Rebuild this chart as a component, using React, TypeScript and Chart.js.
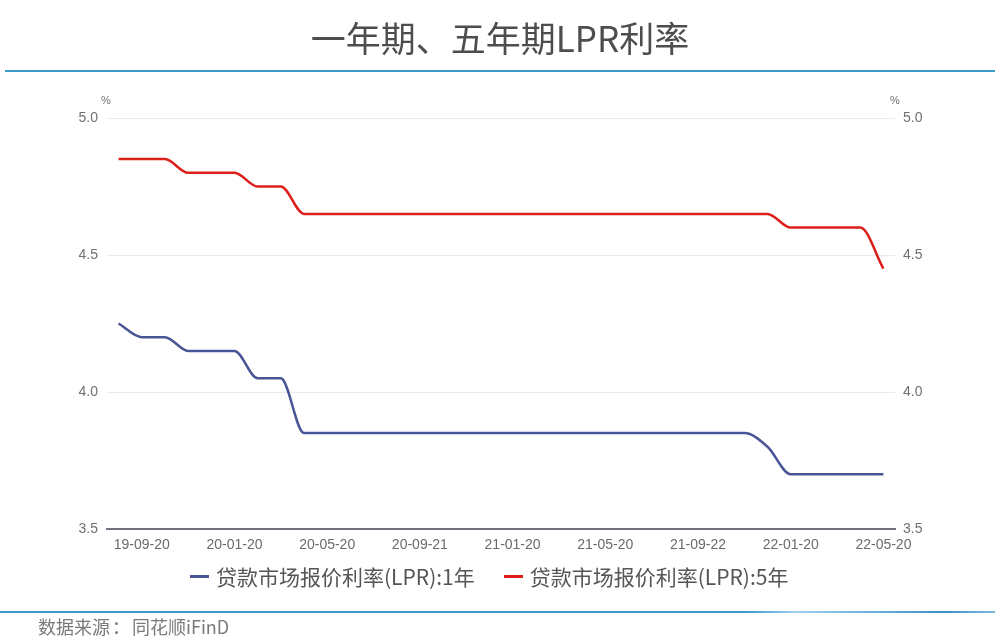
import React, { useEffect, useRef } from "react";
import { Chart, registerables } from "chart.js";

Chart.register(...registerables);

const dates: string[] = [
  "19-08-20", "19-09-20", "19-10-21", "19-11-20", "19-12-20",
  "20-01-20", "20-02-20", "20-03-20", "20-04-20", "20-05-20", "20-06-22", "20-07-20",
  "20-08-20", "20-09-21", "20-10-20", "20-11-20", "20-12-21",
  "21-01-20", "21-02-20", "21-03-22", "21-04-20", "21-05-20", "21-06-21", "21-07-20",
  "21-08-20", "21-09-22", "21-10-20", "21-11-22", "21-12-20",
  "22-01-20", "22-02-21", "22-03-21", "22-04-20", "22-05-20",
];

const lpr1y: number[] = [
  4.25, 4.2, 4.2, 4.15, 4.15,
  4.15, 4.05, 4.05, 3.85, 3.85, 3.85, 3.85,
  3.85, 3.85, 3.85, 3.85, 3.85,
  3.85, 3.85, 3.85, 3.85, 3.85, 3.85, 3.85,
  3.85, 3.85, 3.85, 3.85, 3.8,
  3.7, 3.7, 3.7, 3.7, 3.7,
];

const lpr5y: number[] = [
  4.85, 4.85, 4.85, 4.8, 4.8,
  4.8, 4.75, 4.75, 4.65, 4.65, 4.65, 4.65,
  4.65, 4.65, 4.65, 4.65, 4.65,
  4.65, 4.65, 4.65, 4.65, 4.65, 4.65, 4.65,
  4.65, 4.65, 4.65, 4.65, 4.65,
  4.6, 4.6, 4.6, 4.6, 4.45,
];

const series1Name = "贷款市场报价利率(LPR):1年";
const series5Name = "贷款市场报价利率(LPR):5年";
const titleText = "一年期、五年期LPR利率";
const sourceLead = "数据来源";
const sourceColon = "：";
const sourceRest = "同花顺iFinD";

const yMin = 3.5;
const yMax = 5.0;
const yStep = 0.5;

const BLUE = "#4a5596";
const RED = "#dc1f1a";

export default function App() {
  const canvasRef = useRef<HTMLCanvasElement | null>(null);

  useEffect(() => {
    const canvas = canvasRef.current;
    if (!canvas) return;
    const tickFont = { family: "'Liberation Sans', Arial, sans-serif", size: 14 };
    const chart = new Chart(canvas, {
      type: "line",
      data: {
        labels: dates,
        datasets: [
          {
            label: series1Name,
            data: lpr1y,
            borderColor: BLUE,
            backgroundColor: BLUE,
            borderWidth: 2.5,
            pointRadius: 0,
            cubicInterpolationMode: "monotone",
            yAxisID: "y",
          },
          {
            label: series5Name,
            data: lpr5y,
            borderColor: RED,
            backgroundColor: RED,
            borderWidth: 2.5,
            pointRadius: 0,
            cubicInterpolationMode: "monotone",
            yAxisID: "y1",
          },
        ],
      },
      options: {
        responsive: false,
        animation: false,
        devicePixelRatio: 1,
        layout: { padding: { top: 118, left: 0, right: 0, bottom: 0 } },
        plugins: {
          legend: { display: false },
          tooltip: { enabled: false },
          title: { display: false },
        },
        scales: {
          x: {
            type: "category",
            offset: true,
            grid: { display: false, drawTicks: false },
            border: { display: true, color: "#72727e", width: 2 },
            ticks: {
              autoSkip: false,
              maxRotation: 0,
              padding: 8,
              color: "#6a6a6a",
              font: tickFont,
              callback: (_v: any, i: number) => (i % 4 === 1 ? dates[i] : ""),
            },
            afterFit: (s: any) => {
              s.height = 112;
            },
          },
          y: {
            position: "left",
            min: yMin,
            max: yMax,
            grid: { color: "#ebebeb", lineWidth: 1, drawTicks: false },
            border: { display: false },
            ticks: {
              stepSize: yStep,
              padding: 9,
              color: "#707070",
              font: tickFont,
              callback: (v: any) => Number(v).toFixed(1),
            },
            afterFit: (s: any) => {
              s.width = 107;
            },
          },
          y1: {
            position: "right",
            min: yMin,
            max: yMax,
            grid: { display: false, drawTicks: false },
            border: { display: false },
            ticks: {
              stepSize: yStep,
              padding: 8,
              color: "#707070",
              font: tickFont,
              callback: (v: any) => Number(v).toFixed(1),
            },
            afterFit: (s: any) => {
              s.width = 105;
            },
          },
        },
      },
    });
    return () => chart.destroy();
  }, []);

  const cjk = "'Noto Sans CJK SC', 'Noto Sans', sans-serif";

  return (
    <div
      style={{
        position: "absolute",
        left: 0,
        top: 0,
        width: 1000,
        height: 641,
        background: "#ffffff",
        overflow: "hidden",
      }}
    >
      <canvas
        ref={canvasRef}
        width={1000}
        height={641}
        style={{ position: "absolute", left: 0, top: 0, width: 1000, height: 641 }}
      />
      <div
        style={{
          position: "absolute",
          left: 0,
          top: 11,
          width: 1000,
          textAlign: "center",
          fontFamily: cjk,
          fontSize: 35,
          lineHeight: "52px",
          color: "#4d4d4d",
        }}
      >
        {titleText}
      </div>
      <div
        style={{
          position: "absolute",
          left: 5,
          top: 70,
          width: 990,
          height: 2,
          background: "#3d9acd",
        }}
      />
      <div
        style={{
          position: "absolute",
          left: 100,
          top: 94,
          width: 12,
          textAlign: "center",
          fontFamily: "'Liberation Sans', Arial, sans-serif",
          fontSize: 11,
          color: "#707070",
        }}
      >
        %
      </div>
      <div
        style={{
          position: "absolute",
          left: 889,
          top: 94,
          width: 12,
          textAlign: "center",
          fontFamily: "'Liberation Sans', Arial, sans-serif",
          fontSize: 11,
          color: "#707070",
        }}
      >
        %
      </div>
      <div
        style={{
          position: "absolute",
          left: 190,
          top: 562,
          height: 28,
          display: "flex",
          alignItems: "center",
          fontFamily: cjk,
          fontSize: 21,
          color: "#555555",
          whiteSpace: "nowrap",
        }}
      >
        <span style={{ display: "inline-block", width: 19, height: 3, background: BLUE, marginRight: 7 }} />
        <span>{series1Name}</span>
        <span style={{ display: "inline-block", width: 19, height: 3, background: RED, marginLeft: 29, marginRight: 7 }} />
        <span>{series5Name}</span>
      </div>
      <div
        style={{
          position: "absolute",
          left: 0,
          top: 611,
          width: 995,
          height: 2,
          background: "linear-gradient(to right, #3d9acd 0%, #3d9acd 75%, #9fd0ec 80%, #3d8fc9 95%, #7fb8de 100%)",
        }}
      />
      <div
        style={{
          position: "absolute",
          left: 38,
          top: 614,
          fontFamily: cjk,
          fontSize: 18,
          lineHeight: "24px",
          color: "#7a7a7a",
          whiteSpace: "nowrap",
        }}
      >
        <span>{sourceLead}</span>
        <span style={{ display: "inline-block", width: 22, textAlign: "center" }}>{sourceColon}</span>
        <span>{sourceRest}</span>
      </div>
    </div>
  );
}
